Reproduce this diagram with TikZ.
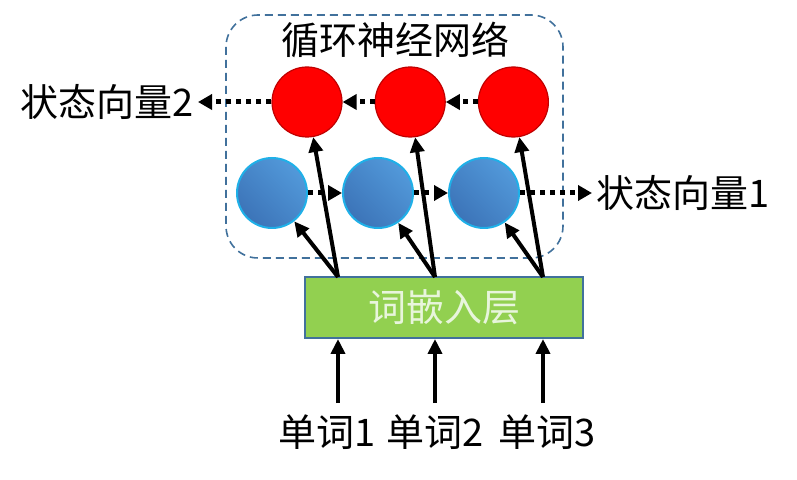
\documentclass[tikz,border=0pt]{standalone}
\usepackage{fontspec}
\setmainfont{Noto Sans CJK SC}
\usetikzlibrary{positioning,arrows.meta}
\definecolor{redline}{HTML}{C00000}
\definecolor{bluerim}{HTML}{1FB0E8}
\definecolor{bluetop}{HTML}{5299DA}
\definecolor{bluebot}{HTML}{3C74B8}
\definecolor{embgreen}{HTML}{92D050}
\definecolor{embtext}{HTML}{E8F5DC}
\definecolor{boxline}{HTML}{41719C}
\tikzset{
  rnode/.style={circle, draw=redline, fill=red, line width=0.6pt,
    minimum size=35pt, inner sep=0pt},
  bnode/.style={circle, draw=bluerim, line width=1pt, minimum size=35pt, inner sep=0pt,
    top color=bluetop, bottom color=bluebot, shading angle=-45},
  embbox/.style={rectangle, draw=boxline, fill=embgreen, line width=1pt,
    minimum width=139pt, minimum height=30.5pt, text=embtext, font=\fontsize{19}{22}\selectfont},
  lbl/.style={font=\fontsize{19}{22}\selectfont, inner sep=2pt},
  up/.style={-{Triangle[length=7.5pt,width=7pt]}, line width=2pt},
  dots/.style={-{Triangle[length=7pt,width=7.5pt]}, line width=2.5pt,
    dash pattern=on 2.5pt off 2.5pt},
}
\begin{document}
\begin{tikzpicture}[x=0.5pt, y=-0.5pt]
\useasboundingbox (0,0) rectangle (797,480);
% recurrent network frame
\draw[boxline, line width=0.8pt, dash pattern=on 4pt off 2.5pt, rounded corners=16pt]
  (226,15) rectangle (563,258);
\node[lbl] (title) at (395,40) {循环神经网络};
% hidden states
\node[rnode] (r1) at (307,102) {};
\node[rnode, right=16pt of r1] (r2) {};
\node[rnode, right=16pt of r2] (r3) {};
\node[bnode] (b1) at (272,193) {};
\node[bnode, right=17pt of b1] (b2) {};
\node[bnode, right=17pt of b2] (b3) {};
% embedding and words
\node[embbox] (emb) at (444,307.5) {词嵌入层};
\node[lbl] (w1) at (327,432) {单词1};
\node[lbl] (w2) at (435,432) {单词2};
\node[lbl] (w3) at (547,432) {单词3};
\node[lbl, anchor=east] (sv2) at (198,102) {状态向量2};
\node[lbl, anchor=west] (sv1) at (592,193) {状态向量1};
\coordinate (p1) at (338,277);
\coordinate (p2) at (435,277);
\coordinate (p3) at (543,277);
\coordinate (q1) at (338,403);
\coordinate (q2) at (435,403);
\coordinate (q3) at (543,403);
% recurrences
\draw[dots] (b1) -- (b2);
\draw[dots] (b2) -- (b3);
\draw[dots] (b3) -- (sv1);
\draw[dots] (r3) -- (r2);
\draw[dots] (r2) -- (r1);
\draw[dots] (r1) -- (sv2);
% inputs
\draw[up] (p1) -- (b1);
\draw[up] (p1) -- (r1);
\draw[up] (p2) -- (b2);
\draw[up] (p2) -- (r2);
\draw[up] (p3) -- (b3);
\draw[up] (p3) -- (r3);
\draw[up] (q1) -- (q1 |- emb.south);
\draw[up] (q2) -- (q2 |- emb.south);
\draw[up] (q3) -- (q3 |- emb.south);
\end{tikzpicture}
\end{document}
